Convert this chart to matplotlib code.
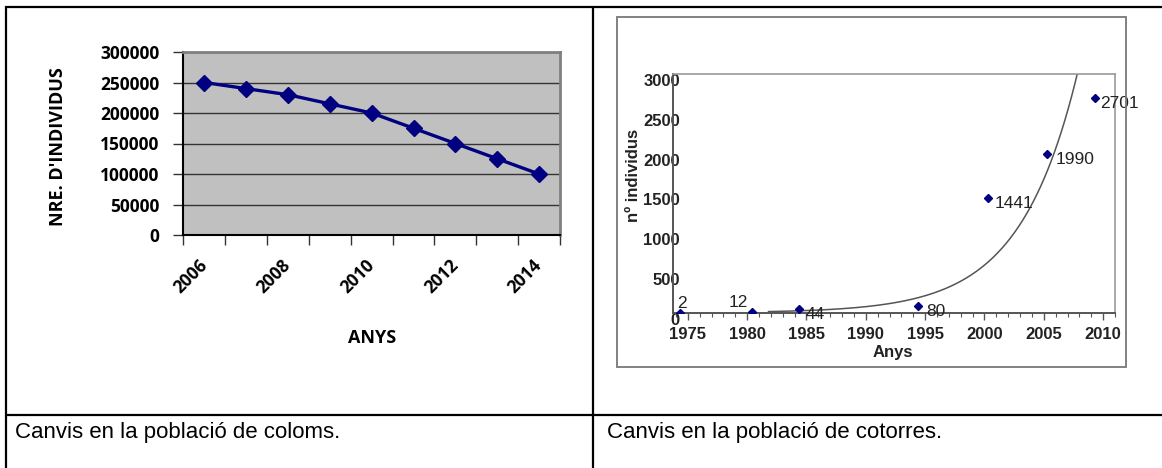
import numpy as np
import matplotlib
matplotlib.use("Agg")
import matplotlib.pyplot as plt
from matplotlib.ticker import MultipleLocator, FixedLocator
from matplotlib.patches import Rectangle
from matplotlib.lines import Line2D

# ---------------- data ----------------
pigeon_years = [2006, 2007, 2008, 2009, 2010, 2011, 2012, 2013, 2014]
pigeon_counts = [250000, 240000, 230000, 215000, 200000, 175000, 150000, 125000, 100000]
pigeon_tick_labels = ["2006", "2008", "2010", "2012", "2014"]
pigeon_yticks = [0, 50000, 100000, 150000, 200000, 250000, 300000]
pigeon_ylabel = "NRE. D'INDIVIDUS"
pigeon_xlabel = "ANYS"

parrot_years = [1974.3, 1980.4, 1984.4, 1994.4, 2000.3, 2005.3, 2009.3]
parrot_counts = [2, 12, 44, 80, 1441, 1990, 2701]
parrot_point_labels = ["2", "12", "44", "80", "1441", "1990", "2701"]
parrot_xticks = [1975, 1980, 1985, 1990, 1995, 2000, 2005, 2010]
parrot_yticks = [0, 500, 1000, 1500, 2000, 2500, 3000]
parrot_trend_start = 1981.8
parrot_ylabel = "nº individus"
parrot_xlabel = "Anys"

captions = ["Canvis en la població de coloms.", "Canvis en la població de cotorres."]

# ---------------- layout helpers ----------------
W, H = 1162, 468
fig = plt.figure(figsize=(W / 100, H / 100), dpi=100)
fig.patch.set_facecolor("white")


def rect(l, t, r, b):
    return [l / W, 1 - b / H, (r - l) / W, (b - t) / H]


def fline(x0, y0, x1, y1, **kw):
    fig.add_artist(Line2D([x0 / W, x1 / W], [1 - y0 / H, 1 - y1 / H],
                          transform=fig.transFigure, **kw))


# ---------------- table frame ----------------
tkw = dict(color="black", lw=1.6, solid_capstyle="butt")
fline(5, 6.5, W, 6.5, **tkw)
fline(6, 6, 6, H, **tkw)
fline(593, 6, 593, H, **tkw)
fline(5, 415, W, 415, **tkw)

# ---------------- left chart (coloms) ----------------
calibri_like = "Open Sans"
ax1 = fig.add_axes(rect(183.3, 52, 560, 235))
ax1.set_facecolor("#C0C0C0")
idx = np.arange(len(pigeon_years))
ax1.plot(idx, pigeon_counts, color="#000080", lw=2.4, marker="D", ms=8,
         markerfacecolor="#000080", markeredgecolor="#000080", zorder=3)
ax1.set_xlim(-0.5, len(pigeon_years) - 0.5)
ax1.set_ylim(pigeon_yticks[0], pigeon_yticks[-1])
ax1.set_yticks(pigeon_yticks)
ax1.set_yticklabels([str(v) for v in pigeon_yticks])
ax1.yaxis.grid(True, color="#333333", lw=1)
ax1.set_axisbelow(True)
lab_pos = [pigeon_years.index(int(s)) for s in pigeon_tick_labels]
ax1.set_xticks(lab_pos)
ax1.set_xticklabels(pigeon_tick_labels, rotation=45, ha="right",
                    va="center", rotation_mode="anchor")
ax1.xaxis.set_minor_locator(FixedLocator(np.arange(-0.5, len(pigeon_years), 1.0)))
ax1.tick_params(axis="x", which="major", length=0, pad=20)
ax1.tick_params(axis="x", which="minor", length=7, width=1, color="#333333", direction="out")
ax1.tick_params(axis="y", length=7, width=1, color="#333333", direction="out", pad=10)
for lab in ax1.get_xticklabels() + ax1.get_yticklabels():
    lab.set_fontfamily(calibri_like)
    lab.set_fontweight("bold")
    lab.set_fontsize(12.5)
for s in ["left", "bottom"]:
    ax1.spines[s].set_color("black")
    ax1.spines[s].set_linewidth(1.5)
for s in ["top", "right"]:
    ax1.spines[s].set_color("#808080")
    ax1.spines[s].set_linewidth(2)
fig.text(58 / W, 1 - 147 / H, pigeon_ylabel, rotation=90, ha="center", va="center",
         fontfamily=calibri_like, fontweight="bold", fontsize=13)
fig.text(372 / W, 1 - 338 / H, pigeon_xlabel, ha="center", va="center",
         fontfamily=calibri_like, fontweight="bold", fontsize=13)

# ---------------- right chart (cotorres) ----------------
fig.add_artist(Rectangle((617 / W, 1 - 367 / H), (1126 - 617) / W, (367 - 17) / H,
                         transform=fig.transFigure, fill=False, ec="#777777", lw=1.3))
arial = "Liberation Sans"
ax2 = fig.add_axes(rect(673, 74, 1115, 312.7))
ax2.set_facecolor("white")
ax2.set_xlim(1973.75, 2011)
ax2.set_ylim(parrot_yticks[0], parrot_yticks[-1])
coef = np.polyfit(parrot_years, np.log(parrot_counts), 1)
tx = np.linspace(parrot_trend_start, ax2.get_xlim()[1], 400)
ax2.plot(tx, np.exp(np.polyval(coef, tx)), color="#555555", lw=1.1, zorder=2)
ax2.plot(parrot_years, parrot_counts, ls="none", marker="D", ms=4,
         color="#000080", zorder=3)
offsets = [(2, 5, "center"), (-4, 5, "right"), (6, -10, "left"), (8, -10, "left"),
           (7, -10, "left"), (8, -10, "left"), (5, -10, "left")]
for x, y, s, (dx, dy, ha) in zip(parrot_years, parrot_counts, parrot_point_labels, offsets):
    ax2.annotate(s, (x, y), xytext=(dx, dy), textcoords="offset pixels",
                 ha=ha, va="baseline", fontfamily=arial, fontsize=12.5,
                 color="#222222", annotation_clip=False, zorder=4)
ax2.set_xticks(parrot_xticks)
ax2.set_xticklabels([str(v) for v in parrot_xticks])
ax2.xaxis.set_minor_locator(MultipleLocator(1))
ax2.set_yticks(parrot_yticks)
ax2.set_yticklabels([str(v) for v in parrot_yticks])
ax2.tick_params(axis="x", which="major", length=5, width=1, color="#555555", pad=5)
ax2.tick_params(axis="x", which="minor", length=3, width=0.8, color="#555555")
ax2.tick_params(axis="y", length=0, pad=-5)
for lab in ax2.get_xticklabels() + ax2.get_yticklabels():
    lab.set_fontfamily(arial)
    lab.set_fontweight("bold")
    lab.set_fontsize(12)
    lab.set_color("#222222")
for lab in ax2.get_yticklabels():
    lab.set_va("top")
for s in ["top", "right"]:
    ax2.spines[s].set_color("#999999")
    ax2.spines[s].set_linewidth(1.2)
for s in ["left", "bottom"]:
    ax2.spines[s].set_color("#555555")
    ax2.spines[s].set_linewidth(1.4)
fig.text(633 / W, 1 - 175 / H, parrot_ylabel, rotation=90, ha="center", va="center",
         fontfamily=arial, fontweight="bold", fontsize=12, color="#222222")
fig.text(893 / W, 1 - 353 / H, parrot_xlabel, ha="center", va="center",
         fontfamily=arial, fontweight="bold", fontsize=12, color="#222222")

# ---------------- captions ----------------
fig.text(15 / W, 1 - 438 / H, captions[0], ha="left", va="baseline",
         fontfamily=arial, fontsize=16, color="black")
fig.text(607 / W, 1 - 438 / H, captions[1], ha="left", va="baseline",
         fontfamily=arial, fontsize=16, color="black")

fig.savefig("out.png", dpi=100, facecolor="white")
